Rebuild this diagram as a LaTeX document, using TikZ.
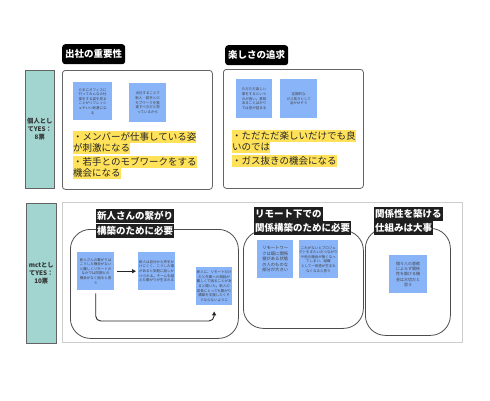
\documentclass[tikz,border=0pt]{standalone}
\usepackage{fontspec}
\setmainfont{Noto Sans CJK JP}
\usetikzlibrary{arrows.meta}
\definecolor{teal1}{RGB}{162,212,208}
\definecolor{noteblue}{RGB}{138,180,248}
\definecolor{hlyellow}{RGB}{255,226,90}
\definecolor{boxgray}{RGB}{100,100,100}
\definecolor{lightgray1}{RGB}{205,205,205}
\tikzset{
  tealbox/.style={draw=boxgray, fill=teal1, line width=0.6pt, anchor=north west, inner sep=0pt,
    align=center, font=\fontsize{6.3}{8}\selectfont\bfseries, text=black!80},
  topbox/.style={draw=boxgray, line width=0.8pt, rounded corners=3pt, anchor=north west, inner sep=0pt},
  grpbox/.style={draw=black!70, line width=0.8pt, rounded corners=20pt, anchor=north west, inner sep=0pt},
  tophdr/.style={fill=black, rounded corners=3pt, text=white, anchor=north west, minimum height=20pt,
    inner xsep=3pt, inner ysep=0pt, font=\fontsize{9.5}{11}\selectfont\bfseries},
  grphdr/.style={fill=black!88, text=white, anchor=west, minimum height=14.5pt, inner xsep=1pt, inner ysep=0pt,
    font=\fontsize{9.5}{11}\selectfont\bfseries},
  hl/.style={fill=hlyellow, anchor=west, inner xsep=0pt, inner ysep=0.6pt, text height=8.3pt, text depth=2.3pt,
    font=\fontsize{9.5}{11}\selectfont, text=black!85},
  note/.style={fill=noteblue, anchor=north west, inner sep=0pt, align=center, text=black!75,
    font=\fontsize{3.5}{4.6}\selectfont},
  arr/.style={draw=black!85, line width=0.9pt, -{Triangle[length=4pt,width=4pt]}},
}
\begin{document}
\begin{tikzpicture}[x=1pt,y=-1pt]
\useasboundingbox (0,0) rectangle (490,400);
\fill[white] (0,0) rectangle (490,400);

% left teal labels
\node[tealbox, minimum width=29pt, minimum height=118pt] (lab1) at (25,70) {個人とし\\てYES：\\8票};
\node[tealbox, minimum width=30pt, minimum height=140pt] (lab2) at (26,203) {mctとし\\てYES：\\10票};

% top boxes
\node[topbox, minimum width=150pt, minimum height=119pt] (box1) at (62,70) {};
\node[topbox, minimum width=140pt, minimum height=119pt] (box2) at (223,69) {};
\node[tophdr] (h1) at (62,44) {出社の重要性};
\node[tophdr] (h2) at (225,45) {楽しさの追求};

% box1 notes
\node[note, minimum width=39pt, minimum height=38pt] (b1n1) at (73,82)
  {たまにオフィスに\\行ってみんなの仕\\事をする姿を見る\\ことがリフレッシ\\ュやいい刺激にな\\る};
\node[note, minimum width=37pt, minimum height=39pt] (b1n2) at (129,83)
  {出社することで\\新人・若手との\\モブワークを推\\進すべきだと思\\っているから};
% box1 highlighted text
\node[hl] (t11) at (73,137) {・メンバーが仕事している姿};
\node[hl] (t12) at (73,148.5) {が刺激になる};
\node[hl] (t13) at (73,162) {・若手とのモブワークをする};
\node[hl] (t14) at (73,173.5) {機会になる};

% box2 notes
\node[note, minimum width=36pt, minimum height=39pt] (b2n1) at (236,79)
  {ただただ楽しい\\事をするという\\のが良い。意味\\あることばかり\\では息が詰まる};
\node[note, minimum width=37pt, minimum height=39pt] (b2n2) at (280,79)
  {定期的な\\ガス抜きとして\\活かせそう};
\node[hl] (t21) at (232,136) {・ただただ楽しいだけでも良};
\node[hl] (t22) at (232,147.5) {いのでは};
\node[hl] (t23) at (232,161) {・ガス抜きの機会になる};

% mct big box
\node[draw=lightgray1, line width=0.8pt, anchor=north west, minimum width=400pt, minimum height=140pt, inner sep=0pt] (big) at (62,202) {};

% groups
\node[grpbox, minimum width=168pt, minimum height=109pt] (g1) at (70,229) {};
\node[grpbox, minimum width=120pt, minimum height=98pt] (g2) at (243,230) {};
\node[grpbox, minimum width=85pt, minimum height=107pt] (g3) at (365,228) {};

\node[grphdr] (g1h1) at (96,216) {新人さんの繋がり};
\node[grphdr] (g1h2) at (96,231) {構築のために必要};
\node[grphdr] (g2h1) at (254,214) {リモート下での};
\node[grphdr] (g2h2) at (254,228) {関係構築のために必要};
\node[grphdr] (g3h1) at (374,214) {関係性を築ける};
\node[grphdr] (g3h2) at (374,228) {仕組みは大事};

% group 1 notes
\node[note, minimum width=37pt, minimum height=38pt] (g1n1) at (77,252)
  {新人さんの繋がりは\\こうした機会がない\\と難しくリモートの\\なかでは同期との\\機会がなく困ると思\\う};
\node[note, minimum width=37pt, minimum height=38pt] (g1n2) at (138,252)
  {新人は自分から声をか\\けにくく、こうした場\\があると気軽に話しか\\けられる。チームを越\\えた繋がりが生まれる};
\node[note, minimum width=36pt, minimum height=38pt] (g1n3) at (196,267)
  {新人に、リモートだけ\\だと先輩への相談が\\難しくて困ることがあ\\ると聞いた。新人の\\成長にとっても繋がり\\構築を支援したくそ\\うならないように};

\coordinate (elb) at (214,321);
\draw[arr, shorten <=3pt, shorten >=2pt] (g1n1) -- (g1n2);
\draw[arr, rounded corners=5pt] ([yshift=-3pt]g1n1.south) |- (elb) -- ([yshift=-6pt]g1n3.south);

% group 2 notes
\node[note, minimum width=36pt, minimum height=38pt, font=\fontsize{4.3}{5.6}\selectfont] (g2n1) at (257,240)
  {リモートワー\\クは既に関係\\値がある状態\\の人のものな\\部分が大きい};
\node[note, minimum width=38pt, minimum height=38pt] (g2n2) at (299,240)
  {これがないとプロジェ\\クトをまたいだつながり\\や他の機会が無くなっ\\てしまい、組織\\として一体感が生まれ\\なくなると思う};

% group 3 note
\node[note, minimum width=38pt, minimum height=38pt, font=\fontsize{4}{5.3}\selectfont] (g3n1) at (389,255)
  {個々人の意欲\\によらず関係\\性を築ける機\\会は大切だと\\思う};
\end{tikzpicture}
\end{document}
